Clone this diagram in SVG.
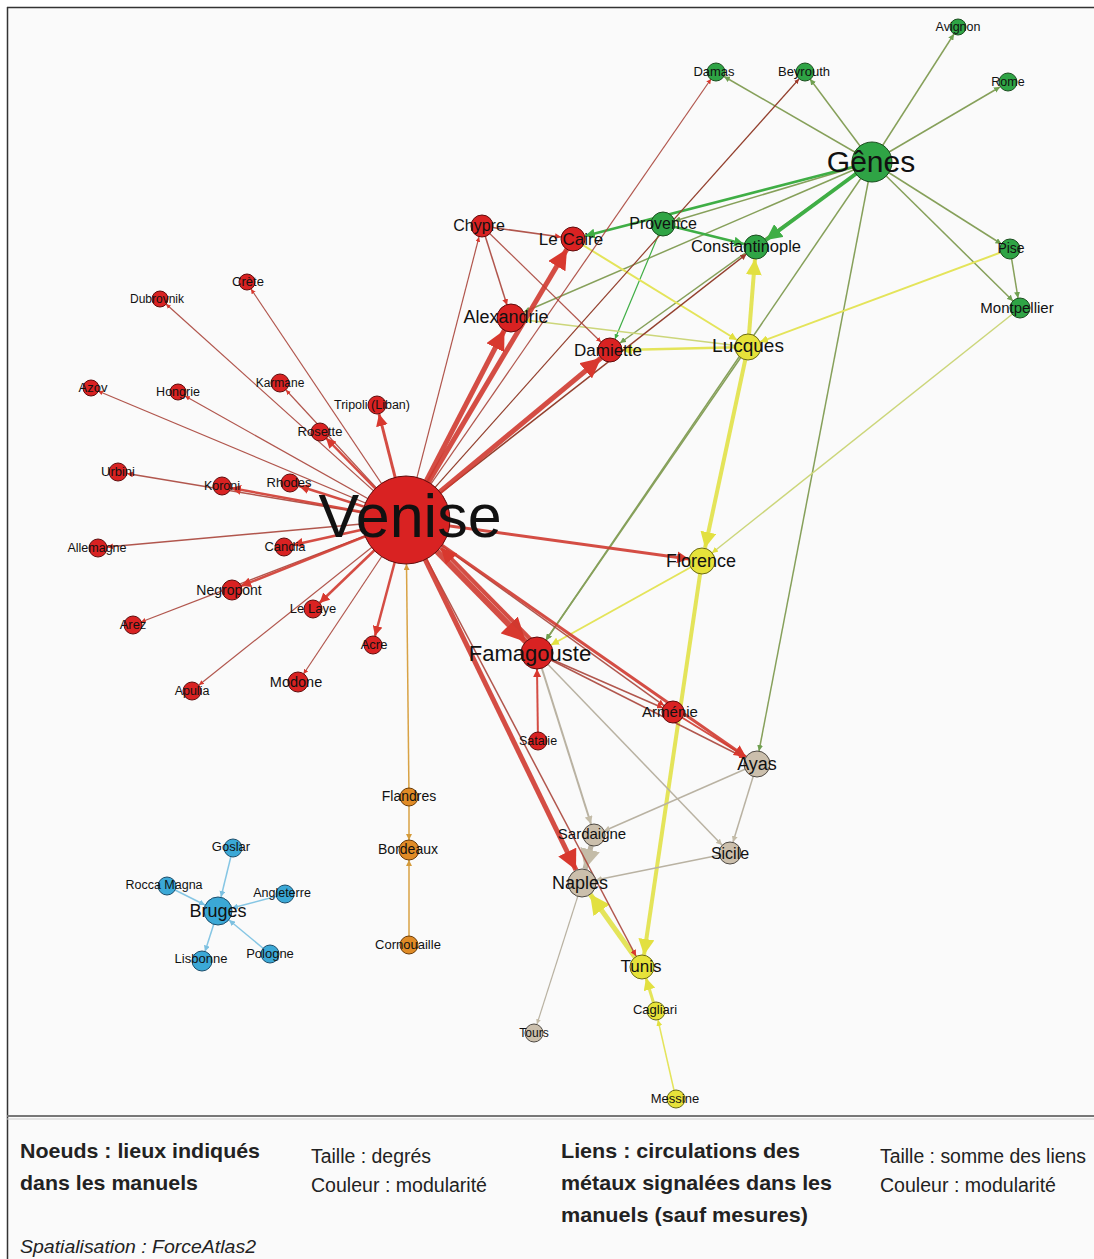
<svg xmlns="http://www.w3.org/2000/svg" width="1094" height="1259" viewBox="0 0 1094 1259">
<style>
.t{font-family:"Liberation Sans",Arial,sans-serif;text-anchor:middle;fill:#111}
.lg{font-family:"Liberation Sans",Arial,sans-serif;fill:#222}
.b{font-weight:bold}
line{fill:none}
.r{stroke:#cf3a30;stroke-opacity:.9}
.rb{stroke:#a8443a;stroke-opacity:.9}
.br{stroke:#93402e}
.g{stroke:#3fae45}
.o{stroke:#86a05a}
.y{stroke:#e4e45a}
.yg{stroke:#ccd67a}
.gy{stroke:#b9b2a2}
.bl{stroke:#86c6e4}
.or{stroke:#d8a244}
.nr{fill:#d92222;stroke:#5e0c0c}
.ng{fill:#2fa445;stroke:#1b4d1f}
.ny{fill:#e6e23a;stroke:#6a6a12}
.nb{fill:#cbbfac;stroke:#4f4a44}
.no{fill:#e08b26;stroke:#6a3a05}
.nl{fill:#3ba8d6;stroke:#1b4d6b}
circle{stroke-width:1}
</style>
<defs>
<marker id="mr" viewBox="0 0 10 10" refX="10" refY="5" markerWidth="4" markerHeight="4" orient="auto"><path d="M0,0L10,5L0,10z" fill="#d8382e"/></marker>
<marker id="mbr" viewBox="0 0 10 10" refX="10" refY="5" markerWidth="4" markerHeight="4" orient="auto"><path d="M0,0L10,5L0,10z" fill="#a03a2c"/></marker>
<marker id="mg" viewBox="0 0 10 10" refX="10" refY="5" markerWidth="4" markerHeight="4" orient="auto"><path d="M0,0L10,5L0,10z" fill="#3fae45"/></marker>
<marker id="mo" viewBox="0 0 10 10" refX="10" refY="5" markerWidth="4" markerHeight="4" orient="auto"><path d="M0,0L10,5L0,10z" fill="#6fa050"/></marker>
<marker id="my" viewBox="0 0 10 10" refX="10" refY="5" markerWidth="4" markerHeight="4" orient="auto"><path d="M0,0L10,5L0,10z" fill="#e2e040"/></marker>
<marker id="mgy" viewBox="0 0 10 10" refX="10" refY="5" markerWidth="4" markerHeight="4" orient="auto"><path d="M0,0L10,5L0,10z" fill="#c4bca8"/></marker>
<marker id="mbl" viewBox="0 0 10 10" refX="10" refY="5" markerWidth="4" markerHeight="4" orient="auto"><path d="M0,0L10,5L0,10z" fill="#7cc0e0"/></marker>
<marker id="mor" viewBox="0 0 10 10" refX="10" refY="5" markerWidth="4" markerHeight="4" orient="auto"><path d="M0,0L10,5L0,10z" fill="#d49a3a"/></marker>
</defs>
<rect x="0" y="0" width="1094" height="1259" fill="#ffffff"/>
<rect x="7" y="7" width="1087" height="1252" fill="#fafafa"/>
<line x1="7" y1="7.5" x2="1094" y2="7.5" stroke="#333" stroke-width="1.5"/>
<line x1="7.5" y1="7" x2="7.5" y2="1259" stroke="#333" stroke-width="1.5"/>
<line x1="7" y1="1116" x2="1094" y2="1116" stroke="#777" stroke-width="2"/>
<line x1="7" y1="1119" x2="1094" y2="1119" stroke="#ccc" stroke-width="1"/>

<g id="connectors">
<!-- green / olive -->
<line class="o" x1="872" y1="162" x2="724" y2="76.5" stroke-width="1.5" marker-end="url(#mo)"/>
<line class="o" x1="872" y1="162" x2="810" y2="79" stroke-width="1.5" marker-end="url(#mo)"/>
<line class="o" x1="872" y1="162" x2="954" y2="34" stroke-width="1.5" marker-end="url(#mo)"/>
<line class="o" x1="872" y1="162" x2="1000" y2="87" stroke-width="1.5" marker-end="url(#mo)"/>
<line class="o" x1="872" y1="162" x2="674.5" y2="221" stroke-width="1.5" marker-end="url(#mo)"/>
<line class="o" x1="872" y1="162" x2="524" y2="312" stroke-width="1.5" marker-end="url(#mo)"/>
<line class="o" x1="872" y1="162" x2="620" y2="343" stroke-width="1.5" marker-end="url(#mo)"/>
<line class="o" x1="872" y1="162" x2="1001.5" y2="244" stroke-width="1.5" marker-end="url(#mo)"/>
<line class="o" x1="872" y1="162" x2="1013" y2="301" stroke-width="1.5" marker-end="url(#mo)"/>
<line class="o" x1="872" y1="162" x2="546" y2="640" stroke-width="1.5" marker-end="url(#mo)"/>
<line class="o" x1="872" y1="162" x2="759" y2="751" stroke-width="1.5" marker-end="url(#mo)"/>
<line class="o" x1="1010" y1="249" x2="1018" y2="298" stroke-width="1.5" marker-end="url(#mo)"/>
<line class="g" x1="663" y1="224" x2="615" y2="339" stroke-width="1.2" marker-end="url(#mg)"/>
<line class="g" x1="872" y1="162" x2="585" y2="236" stroke-width="2.5" marker-end="url(#mg)"/>
<line class="g" x1="663" y1="224" x2="744" y2="244" stroke-width="2.5" marker-end="url(#mg)"/>
<line class="g" x1="872" y1="162" x2="766" y2="240" stroke-width="4" marker-end="url(#mg)"/>
<!-- yellow -->
<line class="yg" x1="748" y1="347" x2="525" y2="320" stroke-width="1.5" marker-end="url(#my)"/>
<line class="yg" x1="1020" y1="308" x2="712" y2="553" stroke-width="1.5" marker-end="url(#my)"/>
<line class="o" x1="748" y1="347" x2="546" y2="640" stroke-width="1.5" marker-end="url(#mo)"/>
<line class="y" x1="573" y1="239" x2="737" y2="340" stroke-width="2" marker-end="url(#my)"/>
<line class="y" x1="1010" y1="249" x2="760" y2="342" stroke-width="2" marker-end="url(#my)"/>
<line class="y" x1="748" y1="347" x2="622" y2="350" stroke-width="2.5" marker-end="url(#my)"/>
<line class="y" x1="702" y1="561" x2="551" y2="645" stroke-width="2" marker-end="url(#my)"/>
<line class="y" x1="748" y1="347" x2="755" y2="259" stroke-width="4" marker-end="url(#my)"/>
<line class="y" x1="748" y1="347" x2="705" y2="548" stroke-width="4" marker-end="url(#my)"/>
<line class="y" x1="702" y1="561" x2="644" y2="955" stroke-width="4" marker-end="url(#my)"/>
<line class="y" x1="642" y1="967" x2="590" y2="894" stroke-width="5" marker-end="url(#my)"/>
<line class="y" x1="656" y1="1011" x2="646" y2="978" stroke-width="3" marker-end="url(#my)"/>
<line class="y" x1="676" y1="1099" x2="658" y2="1020" stroke-width="1.5" marker-end="url(#my)"/>
<!-- gray -->
<line class="gy" x1="537" y1="653" x2="591" y2="824" stroke-width="2" marker-end="url(#mgy)"/>
<line class="gy" x1="537" y1="653" x2="722" y2="845" stroke-width="1.5" marker-end="url(#mgy)"/>
<line class="gy" x1="757" y1="764" x2="604" y2="831" stroke-width="1.5" marker-end="url(#mgy)"/>
<line class="gy" x1="757" y1="764" x2="733" y2="842" stroke-width="1.5" marker-end="url(#mgy)"/>
<line class="gy" x1="730" y1="853" x2="596" y2="880" stroke-width="1.5" marker-end="url(#mgy)"/>
<line class="gy" x1="582" y1="883" x2="537" y2="1024" stroke-width="1.2" marker-end="url(#mgy)"/>
<line class="gy" x1="594" y1="835" x2="585" y2="869" stroke-width="5" marker-end="url(#mgy)"/>
<!-- red thin -->
<line class="rb" x1="406" y1="520" x2="166" y2="304" stroke-width="1.2" marker-end="url(#mr)"/>
<line class="rb" x1="406" y1="520" x2="251" y2="289" stroke-width="1.2" marker-end="url(#mr)"/>
<line class="rb" x1="406" y1="520" x2="98" y2="391" stroke-width="1.2" marker-end="url(#mr)"/>
<line class="rb" x1="406" y1="520" x2="185" y2="396" stroke-width="1.2" marker-end="url(#mr)"/>
<line class="rb" x1="406" y1="520" x2="286" y2="390" stroke-width="1.2" marker-end="url(#mr)"/>
<line class="rb" x1="406" y1="520" x2="127" y2="473.5" stroke-width="1.5" marker-end="url(#mr)"/>
<line class="rb" x1="406" y1="520" x2="107" y2="547" stroke-width="1.5" marker-end="url(#mr)"/>
<line class="rb" x1="406" y1="520" x2="141" y2="622" stroke-width="1.2" marker-end="url(#mr)"/>
<line class="rb" x1="406" y1="520" x2="199" y2="685" stroke-width="1.2" marker-end="url(#mr)"/>
<line class="rb" x1="406" y1="520" x2="303.5" y2="674" stroke-width="1.2" marker-end="url(#mr)"/>
<line class="rb" x1="406" y1="520" x2="479" y2="237" stroke-width="1.2" marker-end="url(#mr)"/>
<line class="rb" x1="406" y1="520" x2="711" y2="79" stroke-width="1.2" marker-end="url(#mr)"/>
<line class="br" x1="406" y1="520" x2="799" y2="79" stroke-width="1.2" marker-end="url(#mbr)"/>
<line class="br" x1="406" y1="520" x2="746.5" y2="254" stroke-width="1.5" marker-end="url(#mbr)"/>
<line class="rb" x1="406" y1="520" x2="636" y2="956" stroke-width="1.5" marker-end="url(#mr)"/>
<line class="rb" x1="406" y1="520" x2="664" y2="705.6" stroke-width="1.5" marker-end="url(#mr)"/>
<line class="rb" x1="482" y1="226" x2="561" y2="237" stroke-width="1.5" marker-end="url(#mr)"/>
<line class="rb" x1="482" y1="226" x2="507" y2="305" stroke-width="1.5" marker-end="url(#mr)"/>
<line class="rb" x1="482" y1="226" x2="601" y2="342" stroke-width="1.2" marker-end="url(#mr)"/>
<line class="rb" x1="537" y1="653" x2="663" y2="708" stroke-width="1.5" marker-end="url(#mr)"/>
<line class="rb" x1="537" y1="653" x2="745" y2="758" stroke-width="1.5" marker-end="url(#mr)"/>
<line class="r" x1="538" y1="741" x2="537" y2="669" stroke-width="2" marker-end="url(#mr)"/>
<!-- red medium -->
<line class="r" x1="406" y1="520" x2="379" y2="414" stroke-width="3" marker-end="url(#mr)"/>
<line class="r" x1="406" y1="520" x2="326" y2="438" stroke-width="2.5" marker-end="url(#mr)"/>
<line class="r" x1="406" y1="520" x2="231" y2="488" stroke-width="2.5" marker-end="url(#mr)"/>
<line class="r" x1="406" y1="520" x2="299" y2="486" stroke-width="2.5" marker-end="url(#mr)"/>
<line class="r" x1="406" y1="520" x2="293" y2="545" stroke-width="2.5" marker-end="url(#mr)"/>
<line class="r" x1="406" y1="520" x2="241" y2="586" stroke-width="2.5" marker-end="url(#mr)"/>
<line class="r" x1="406" y1="520" x2="319.5" y2="603" stroke-width="2.5" marker-end="url(#mr)"/>
<line class="r" x1="406" y1="520" x2="375" y2="636" stroke-width="2.5" marker-end="url(#mr)"/>
<line class="r" x1="406" y1="520" x2="689" y2="559" stroke-width="3" marker-end="url(#mr)"/>
<line class="r" x1="406" y1="520" x2="746" y2="757" stroke-width="3" marker-end="url(#mr)"/>
<line class="r" x1="673" y1="712" x2="746" y2="757" stroke-width="2" marker-end="url(#mr)"/>
<!-- red thick -->
<line class="r" x1="406" y1="520" x2="504.5" y2="330" stroke-width="5" marker-end="url(#mr)"/>
<line class="r" x1="406" y1="520" x2="567" y2="249" stroke-width="5" marker-end="url(#mr)"/>
<line class="r" x1="406" y1="520" x2="601" y2="358" stroke-width="5" marker-end="url(#mr)"/>
<line class="r" x1="406" y1="520" x2="526" y2="642" stroke-width="6" marker-end="url(#mr)"/>
<line class="r" x1="540.6" y1="649.5" x2="440.6" y2="547.8" stroke-width="4" marker-end="url(#mr)"/>
<line class="r" x1="406" y1="520" x2="576" y2="870" stroke-width="5" marker-end="url(#mr)"/>
<!-- blue -->
<line class="bl" x1="233" y1="848" x2="221" y2="897" stroke-width="1.5" marker-end="url(#mbl)"/>
<line class="bl" x1="167" y1="886" x2="205" y2="905" stroke-width="1.5" marker-end="url(#mbl)"/>
<line class="bl" x1="285" y1="894" x2="232" y2="908" stroke-width="1.5" marker-end="url(#mbl)"/>
<line class="bl" x1="218" y1="911" x2="205" y2="951.5" stroke-width="1.5" marker-end="url(#mbl)"/>
<line class="bl" x1="270" y1="954" x2="229" y2="920" stroke-width="1.5" marker-end="url(#mbl)"/>
<!-- orange -->
<line class="or" x1="409" y1="797" x2="406.5" y2="564" stroke-width="1.5" marker-end="url(#mor)"/>
<line class="or" x1="409" y1="797" x2="409" y2="840" stroke-width="1.5" marker-end="url(#mor)"/>
<line class="or" x1="409" y1="945" x2="409" y2="860" stroke-width="1.5" marker-end="url(#mor)"/>
</g>

<g id="n-venise"><circle class="nr" cx="406" cy="520" r="44"/><text class="t" x="410" y="537" font-size="61">Venise</text></g>
<g id="n-chypre"><circle class="nr" cx="482" cy="226" r="11"/><text class="t" x="479" y="231" font-size="16">Chypre</text></g>
<g id="n-lecaire"><circle class="nr" cx="573" cy="239" r="12"/><text class="t" x="571" y="245" font-size="17">Le Caire</text></g>
<g id="n-alexandrie"><circle class="nr" cx="511" cy="318" r="14"/><text class="t" x="506" y="323" font-size="18">Alexandrie</text></g>
<g id="n-damiette"><circle class="nr" cx="610" cy="350" r="12"/><text class="t" x="608" y="356" font-size="17">Damiette</text></g>
<g id="n-dubrovnik"><circle class="nr" cx="160" cy="299" r="8"/><text class="t" x="157" y="303" font-size="12">Dubrovnik</text></g>
<g id="n-crete"><circle class="nr" cx="247" cy="282" r="8"/><text class="t" x="248" y="286" font-size="13">Crète</text></g>
<g id="n-azov"><circle class="nr" cx="91" cy="388" r="8"/><text class="t" x="93" y="392" font-size="13">Azov</text></g>
<g id="n-hongrie"><circle class="nr" cx="178" cy="392" r="8"/><text class="t" x="178" y="396" font-size="12.5">Hongrie</text></g>
<g id="n-karmane"><circle class="nr" cx="280" cy="383" r="9"/><text class="t" x="280" y="387" font-size="12">Karmane</text></g>
<g id="n-tripoli"><circle class="nr" cx="377" cy="405" r="9"/><text class="t" x="372" y="409" font-size="12.5">Tripoli (Liban)</text></g>
<g id="n-rosette"><circle class="nr" cx="320" cy="432" r="9"/><text class="t" x="320" y="436" font-size="13">Rosette</text></g>
<g id="n-rhodes"><circle class="nr" cx="290" cy="483" r="9"/><text class="t" x="289" y="487" font-size="13">Rhodes</text></g>
<g id="n-koroni"><circle class="nr" cx="222" cy="486" r="9"/><text class="t" x="222" y="490" font-size="12.5">Koroni</text></g>
<g id="n-urbini"><circle class="nr" cx="118" cy="472" r="9"/><text class="t" x="118" y="476" font-size="13">Urbini</text></g>
<g id="n-allemagne"><circle class="nr" cx="98" cy="548" r="9"/><text class="t" x="97" y="552" font-size="12.5">Allemagne</text></g>
<g id="n-candia"><circle class="nr" cx="284" cy="547" r="9"/><text class="t" x="285" y="551" font-size="13">Candia</text></g>
<g id="n-negropont"><circle class="nr" cx="232" cy="590" r="10"/><text class="t" x="229" y="595" font-size="14">Negropont</text></g>
<g id="n-arez"><circle class="nr" cx="133" cy="625" r="9"/><text class="t" x="133" y="629" font-size="13">Arez</text></g>
<g id="n-lelaye"><circle class="nr" cx="313" cy="609" r="9"/><text class="t" x="313" y="613" font-size="13">Le Laye</text></g>
<g id="n-acre"><circle class="nr" cx="373" cy="645" r="9"/><text class="t" x="374" y="649" font-size="13">Acre</text></g>
<g id="n-apulia"><circle class="nr" cx="192" cy="691" r="9"/><text class="t" x="192" y="695" font-size="12.5">Apulia</text></g>
<g id="n-modone"><circle class="nr" cx="298" cy="682" r="10"/><text class="t" x="296" y="687" font-size="14.5">Modone</text></g>
<g id="n-famagouste"><circle class="nr" cx="537" cy="653" r="16"/><text class="t" x="530" y="661" font-size="22">Famagouste</text></g>
<g id="n-armenie"><circle class="nr" cx="673" cy="712" r="11"/><text class="t" x="670" y="717" font-size="15">Arménie</text></g>
<g id="n-satalie"><circle class="nr" cx="538" cy="741" r="9"/><text class="t" x="538" y="745" font-size="12.5">Satalie</text></g>
<g id="n-genes"><circle class="ng" cx="872" cy="162" r="20"/><text class="t" x="871" y="172" font-size="30">Gênes</text></g>
<g id="n-damas"><circle class="ng" cx="716" cy="72" r="9"/><text class="t" x="714" y="76" font-size="13">Damas</text></g>
<g id="n-beyrouth"><circle class="ng" cx="805" cy="72" r="9"/><text class="t" x="804" y="76" font-size="13">Beyrouth</text></g>
<g id="n-avignon"><circle class="ng" cx="958" cy="27" r="8"/><text class="t" x="958" y="31" font-size="12.5">Avignon</text></g>
<g id="n-rome"><circle class="ng" cx="1008" cy="82" r="9"/><text class="t" x="1008" y="86" font-size="12.5">Rome</text></g>
<g id="n-provence"><circle class="ng" cx="663" cy="224" r="12"/><text class="t" x="663" y="229" font-size="16">Provence</text></g>
<g id="n-constantinople"><circle class="ng" cx="756" cy="247" r="12"/><text class="t" x="746" y="252" font-size="16.5">Constantinople</text></g>
<g id="n-pise"><circle class="ng" cx="1010" cy="249" r="10"/><text class="t" x="1011" y="253" font-size="14">Pise</text></g>
<g id="n-montpellier"><circle class="ng" cx="1020" cy="308" r="10"/><text class="t" x="1017" y="313" font-size="15">Montpellier</text></g>
<g id="n-lucques"><circle class="ny" cx="748" cy="347" r="13"/><text class="t" x="748" y="352" font-size="19">Lucques</text></g>
<g id="n-florence"><circle class="ny" cx="702" cy="561" r="13"/><text class="t" x="701" y="567" font-size="18">Florence</text></g>
<g id="n-tunis"><circle class="ny" cx="642" cy="967" r="12"/><text class="t" x="641" y="972" font-size="17">Tunis</text></g>
<g id="n-cagliari"><circle class="ny" cx="656" cy="1011" r="9"/><text class="t" x="655" y="1014" font-size="13">Cagliari</text></g>
<g id="n-messine"><circle class="ny" cx="676" cy="1099" r="9"/><text class="t" x="675" y="1103" font-size="13">Messine</text></g>
<g id="n-ayas"><circle class="nb" cx="757" cy="764" r="13"/><text class="t" x="757" y="770" font-size="18">Ayas</text></g>
<g id="n-sardaigne"><circle class="nb" cx="594" cy="835" r="11"/><text class="t" x="592" y="839" font-size="15">Sardaigne</text></g>
<g id="n-sicile"><circle class="nb" cx="730" cy="853" r="11"/><text class="t" x="730" y="859" font-size="16">Sicile</text></g>
<g id="n-naples"><circle class="nb" cx="582" cy="883" r="14"/><text class="t" x="580" y="889" font-size="18">Naples</text></g>
<g id="n-tours"><circle class="nb" cx="534" cy="1033" r="9"/><text class="t" x="534" y="1037" font-size="12">Tours</text></g>
<g id="n-flandres"><circle class="no" cx="409" cy="797" r="9"/><text class="t" x="409" y="801" font-size="14">Flandres</text></g>
<g id="n-bordeaux"><circle class="no" cx="409" cy="850" r="10"/><text class="t" x="408" y="854" font-size="14">Bordeaux</text></g>
<g id="n-cornouaille"><circle class="no" cx="409" cy="945" r="9"/><text class="t" x="408" y="949" font-size="13">Cornouaille</text></g>
<g id="n-bruges"><circle class="nl" cx="218" cy="911" r="14"/><text class="t" x="218" y="917" font-size="18">Bruges</text></g>
<g id="n-goslar"><circle class="nl" cx="233" cy="848" r="9"/><text class="t" x="231" y="851" font-size="13">Goslar</text></g>
<g id="n-roccamagna"><circle class="nl" cx="167" cy="886" r="9"/><text class="t" x="164" y="889" font-size="12.5">Rocca Magna</text></g>
<g id="n-angleterre"><circle class="nl" cx="285" cy="894" r="9"/><text class="t" x="282" y="897" font-size="12.5">Angleterre</text></g>
<g id="n-lisbonne"><circle class="nl" cx="202" cy="961" r="10"/><text class="t" x="201" y="963" font-size="13">Lisbonne</text></g>
<g id="n-pologne"><circle class="nl" cx="270" cy="954" r="9"/><text class="t" x="270" y="958" font-size="13">Pologne</text></g>

<g id="legend">
<text class="lg b" x="20" y="1158" font-size="21" textLength="240" lengthAdjust="spacingAndGlyphs">Noeuds : lieux indiqués</text>
<text class="lg b" x="20" y="1190" font-size="21" textLength="178" lengthAdjust="spacingAndGlyphs">dans les manuels</text>
<text class="lg" x="311" y="1163" font-size="20" textLength="120" lengthAdjust="spacingAndGlyphs">Taille : degrés</text>
<text class="lg" x="311" y="1192" font-size="20" textLength="176" lengthAdjust="spacingAndGlyphs">Couleur : modularité</text>
<text class="lg b" x="561" y="1158" font-size="21" textLength="239" lengthAdjust="spacingAndGlyphs">Liens : circulations des</text>
<text class="lg b" x="561" y="1190" font-size="21" textLength="271" lengthAdjust="spacingAndGlyphs">métaux signalées dans les</text>
<text class="lg b" x="561" y="1222" font-size="21" textLength="247" lengthAdjust="spacingAndGlyphs">manuels (sauf mesures)</text>
<text class="lg" x="880" y="1163" font-size="20" textLength="206" lengthAdjust="spacingAndGlyphs">Taille : somme des liens</text>
<text class="lg" x="880" y="1192" font-size="20" textLength="176" lengthAdjust="spacingAndGlyphs">Couleur : modularité</text>
<text class="lg" x="20" y="1253" font-size="18" font-style="italic" textLength="236" lengthAdjust="spacingAndGlyphs">Spatialisation : ForceAtlas2</text>
</g>
</svg>
